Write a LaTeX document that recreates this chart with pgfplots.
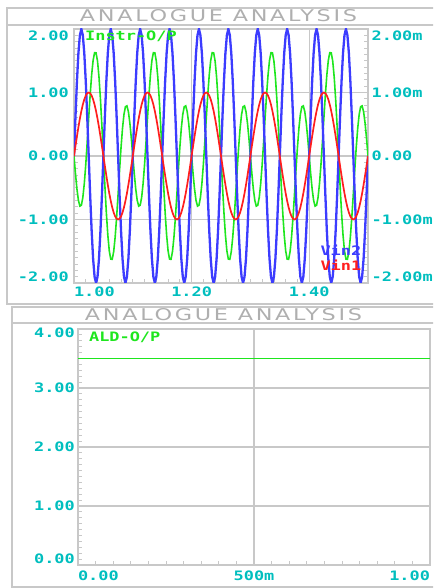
\documentclass[border=0pt]{standalone}
\usepackage{fontspec}
\usepackage{pgfplots}
\usepackage{pgfplotstable}
\pgfplotsset{compat=1.18}

\newfontfamily\pix{DejaVu Sans Mono Bold}[FakeStretch=1.3]
\newfontfamily\ttl{DejaVu Sans}[LetterSpace=12]
\newcommand\pixfont{\pix\fontsize{13pt}{15pt}\selectfont}

\definecolor{framegray}{RGB}{200,200,200}
\definecolor{titlegray}{RGB}{175,175,175}
\definecolor{tickcyan}{RGB}{0,190,190}
\definecolor{sgreen}{RGB}{30,230,30}
\definecolor{sblue}{RGB}{60,60,255}
\definecolor{sred}{RGB}{255,30,30}

% t  Vin1  Vin2  Instr-O/P
\pgfplotstableread{
t v1 v2 out
1.0000 0 0 0
1.0025 0.1564 0.618 -0.277
1.0050 0.3090 1.176 -0.520
1.0075 0.4540 1.618 -0.698
1.0100 0.5878 1.902 -0.789
1.0125 0.7071 2.000 -0.776
1.0150 0.8090 1.902 -0.656
1.0175 0.8910 1.618 -0.436
1.0200 0.9511 1.176 -0.135
1.0225 0.9877 0.618 0.222
1.0250 1.0000 0.000 0.600
1.0275 0.9877 -0.618 0.963
1.0300 0.9511 -1.176 1.276
1.0325 0.8910 -1.618 1.505
1.0350 0.8090 -1.902 1.627
1.0375 0.7071 -2.000 1.624
1.0400 0.5878 -1.902 1.494
1.0425 0.4540 -1.618 1.243
1.0450 0.3090 -1.176 0.891
1.0475 0.1564 -0.618 0.465
1.0500 0 0 0
1.0525 -0.1564 0.618 -0.465
1.0550 -0.3090 1.176 -0.891
1.0575 -0.4540 1.618 -1.243
1.0600 -0.5878 1.902 -1.494
1.0625 -0.7071 2.000 -1.624
1.0650 -0.8090 1.902 -1.627
1.0675 -0.8910 1.618 -1.505
1.0700 -0.9511 1.176 -1.276
1.0725 -0.9877 0.618 -0.963
1.0750 -1.0000 0.000 -0.600
1.0775 -0.9877 -0.618 -0.222
1.0800 -0.9511 -1.176 0.135
1.0825 -0.8910 -1.618 0.436
1.0850 -0.8090 -1.902 0.656
1.0875 -0.7071 -2.000 0.776
1.0900 -0.5878 -1.902 0.789
1.0925 -0.4540 -1.618 0.698
1.0950 -0.3090 -1.176 0.520
1.0975 -0.1564 -0.618 0.277
1.1000 0 0 0
1.1025 0.1564 0.618 -0.277
1.1050 0.3090 1.176 -0.520
1.1075 0.4540 1.618 -0.698
1.1100 0.5878 1.902 -0.789
1.1125 0.7071 2.000 -0.776
1.1150 0.8090 1.902 -0.656
1.1175 0.8910 1.618 -0.436
1.1200 0.9511 1.176 -0.135
1.1225 0.9877 0.618 0.222
1.1250 1.0000 0.000 0.600
1.1275 0.9877 -0.618 0.963
1.1300 0.9511 -1.176 1.276
1.1325 0.8910 -1.618 1.505
1.1350 0.8090 -1.902 1.627
1.1375 0.7071 -2.000 1.624
1.1400 0.5878 -1.902 1.494
1.1425 0.4540 -1.618 1.243
1.1450 0.3090 -1.176 0.891
1.1475 0.1564 -0.618 0.465
1.1500 0 0 0
1.1525 -0.1564 0.618 -0.465
1.1550 -0.3090 1.176 -0.891
1.1575 -0.4540 1.618 -1.243
1.1600 -0.5878 1.902 -1.494
1.1625 -0.7071 2.000 -1.624
1.1650 -0.8090 1.902 -1.627
1.1675 -0.8910 1.618 -1.505
1.1700 -0.9511 1.176 -1.276
1.1725 -0.9877 0.618 -0.963
1.1750 -1.0000 0.000 -0.600
1.1775 -0.9877 -0.618 -0.222
1.1800 -0.9511 -1.176 0.135
1.1825 -0.8910 -1.618 0.436
1.1850 -0.8090 -1.902 0.656
1.1875 -0.7071 -2.000 0.776
1.1900 -0.5878 -1.902 0.789
1.1925 -0.4540 -1.618 0.698
1.1950 -0.3090 -1.176 0.520
1.1975 -0.1564 -0.618 0.277
1.2000 0 0 0
1.2025 0.1564 0.618 -0.277
1.2050 0.3090 1.176 -0.520
1.2075 0.4540 1.618 -0.698
1.2100 0.5878 1.902 -0.789
1.2125 0.7071 2.000 -0.776
1.2150 0.8090 1.902 -0.656
1.2175 0.8910 1.618 -0.436
1.2200 0.9511 1.176 -0.135
1.2225 0.9877 0.618 0.222
1.2250 1.0000 0.000 0.600
1.2275 0.9877 -0.618 0.963
1.2300 0.9511 -1.176 1.276
1.2325 0.8910 -1.618 1.505
1.2350 0.8090 -1.902 1.627
1.2375 0.7071 -2.000 1.624
1.2400 0.5878 -1.902 1.494
1.2425 0.4540 -1.618 1.243
1.2450 0.3090 -1.176 0.891
1.2475 0.1564 -0.618 0.465
1.2500 0 0 0
1.2525 -0.1564 0.618 -0.465
1.2550 -0.3090 1.176 -0.891
1.2575 -0.4540 1.618 -1.243
1.2600 -0.5878 1.902 -1.494
1.2625 -0.7071 2.000 -1.624
1.2650 -0.8090 1.902 -1.627
1.2675 -0.8910 1.618 -1.505
1.2700 -0.9511 1.176 -1.276
1.2725 -0.9877 0.618 -0.963
1.2750 -1.0000 0.000 -0.600
1.2775 -0.9877 -0.618 -0.222
1.2800 -0.9511 -1.176 0.135
1.2825 -0.8910 -1.618 0.436
1.2850 -0.8090 -1.902 0.656
1.2875 -0.7071 -2.000 0.776
1.2900 -0.5878 -1.902 0.789
1.2925 -0.4540 -1.618 0.698
1.2950 -0.3090 -1.176 0.520
1.2975 -0.1564 -0.618 0.277
1.3000 0 0 0
1.3025 0.1564 0.618 -0.277
1.3050 0.3090 1.176 -0.520
1.3075 0.4540 1.618 -0.698
1.3100 0.5878 1.902 -0.789
1.3125 0.7071 2.000 -0.776
1.3150 0.8090 1.902 -0.656
1.3175 0.8910 1.618 -0.436
1.3200 0.9511 1.176 -0.135
1.3225 0.9877 0.618 0.222
1.3250 1.0000 0.000 0.600
1.3275 0.9877 -0.618 0.963
1.3300 0.9511 -1.176 1.276
1.3325 0.8910 -1.618 1.505
1.3350 0.8090 -1.902 1.627
1.3375 0.7071 -2.000 1.624
1.3400 0.5878 -1.902 1.494
1.3425 0.4540 -1.618 1.243
1.3450 0.3090 -1.176 0.891
1.3475 0.1564 -0.618 0.465
1.3500 0 0 0
1.3525 -0.1564 0.618 -0.465
1.3550 -0.3090 1.176 -0.891
1.3575 -0.4540 1.618 -1.243
1.3600 -0.5878 1.902 -1.494
1.3625 -0.7071 2.000 -1.624
1.3650 -0.8090 1.902 -1.627
1.3675 -0.8910 1.618 -1.505
1.3700 -0.9511 1.176 -1.276
1.3725 -0.9877 0.618 -0.963
1.3750 -1.0000 0.000 -0.600
1.3775 -0.9877 -0.618 -0.222
1.3800 -0.9511 -1.176 0.135
1.3825 -0.8910 -1.618 0.436
1.3850 -0.8090 -1.902 0.656
1.3875 -0.7071 -2.000 0.776
1.3900 -0.5878 -1.902 0.789
1.3925 -0.4540 -1.618 0.698
1.3950 -0.3090 -1.176 0.520
1.3975 -0.1564 -0.618 0.277
1.4000 0 0 0
1.4025 0.1564 0.618 -0.277
1.4050 0.3090 1.176 -0.520
1.4075 0.4540 1.618 -0.698
1.4100 0.5878 1.902 -0.789
1.4125 0.7071 2.000 -0.776
1.4150 0.8090 1.902 -0.656
1.4175 0.8910 1.618 -0.436
1.4200 0.9511 1.176 -0.135
1.4225 0.9877 0.618 0.222
1.4250 1.0000 0.000 0.600
1.4275 0.9877 -0.618 0.963
1.4300 0.9511 -1.176 1.276
1.4325 0.8910 -1.618 1.505
1.4350 0.8090 -1.902 1.627
1.4375 0.7071 -2.000 1.624
1.4400 0.5878 -1.902 1.494
1.4425 0.4540 -1.618 1.243
1.4450 0.3090 -1.176 0.891
1.4475 0.1564 -0.618 0.465
1.4500 0 0 0
1.4525 -0.1564 0.618 -0.465
1.4550 -0.3090 1.176 -0.891
1.4575 -0.4540 1.618 -1.243
1.4600 -0.5878 1.902 -1.494
1.4625 -0.7071 2.000 -1.624
1.4650 -0.8090 1.902 -1.627
1.4675 -0.8910 1.618 -1.505
1.4700 -0.9511 1.176 -1.276
1.4725 -0.9877 0.618 -0.963
1.4750 -1.0000 0.000 -0.600
1.4775 -0.9877 -0.618 -0.222
1.4800 -0.9511 -1.176 0.135
1.4825 -0.8910 -1.618 0.436
1.4850 -0.8090 -1.902 0.656
1.4875 -0.7071 -2.000 0.776
1.4900 -0.5878 -1.902 0.789
1.4925 -0.4540 -1.618 0.698
1.4950 -0.3090 -1.176 0.520
1.4975 -0.1564 -0.618 0.277
1.5000 0 0 0
}\wave

\pgfplotsset{
  scopeplot/.style={
    scale only axis,
    axis line style={draw=framegray, line width=1.2pt},
    grid=major,
    major grid style={draw=framegray, line width=1.2pt},
    tick align=inside,
    major tick length=0pt,
    minor tick length=4pt,
    minor tick style={draw=framegray, line width=0.8pt},
    xtick pos=bottom,
    ticklabel style={font=\pixfont, text=tickcyan, inner sep=0pt},
  },
}

\begin{document}
\begin{tikzpicture}
\useasboundingbox (0,0) rectangle (433pt,588pt);
\clip (0,0) rectangle (433pt,588pt);

% panel frames
\draw[framegray, line width=1.2pt] (7pt,580pt) rectangle (445pt,284pt);
\draw[framegray, line width=1.2pt] (7pt,563pt) -- (445pt,563pt);
\draw[framegray, line width=1.2pt] (12pt,281pt) rectangle (445pt,1pt);
\draw[framegray, line width=1.2pt] (12pt,265pt) -- (445pt,265pt);

\node[text=titlegray, inner sep=0pt] at (218.5pt,572pt)
  {\resizebox{277pt}{12pt}{\ttl ANALOGUE ANALYSIS}};
\node[text=titlegray, inner sep=0pt] at (223.5pt,273pt)
  {\resizebox{277pt}{12pt}{\ttl ANALOGUE ANALYSIS}};

% top panel
\begin{axis}[
  scopeplot,
  at={(74pt,305pt)}, anchor=south west,
  width=294pt, height=254pt,
  xmin=1, xmax=1.5, ymin=-2, ymax=2,
  xtick={1,1.2,1.4},
  xticklabels={\makebox[0pt][l]{1.00}, 1.20, 1.40},
  xticklabel style={anchor=north, yshift=-4pt},
  ytick={-2,-1,0,1,2},
  yticklabels={\raisebox{6pt}{-2.00}, -1.00, 0.00, 1.00, \raisebox{-7pt}{2.00}},
  yticklabel style={anchor=base east, yshift=-4.7pt, xshift=-5pt},
  ytick pos=both, yticklabel pos=left,
  minor x tick num=9, minor y tick num=9,
  legend style={at={(axis cs:1.419,-1.39)}, anchor=north west, draw=none,
    fill=none, inner sep=0pt, font=\pixfont, row sep=3pt,
    nodes={inner sep=0pt}},
  legend image code/.code={},
]
\addplot[sgreen, line width=1.6pt, forget plot] table[x=t, y=out] {\wave};
\addplot[sblue, line width=2.3pt] table[x=t, y=v2] {\wave};
\addlegendentry{\textcolor{sblue}{Vin2}}
\addplot[sred, line width=1.7pt] table[x=t, y=v1] {\wave};
\addlegendentry{\textcolor{sred}{Vin1}}
\node[anchor=west, inner sep=0pt, text=sgreen, font=\pixfont]
  at (axis cs:1.0187,1.89) {Instr-O/P};
\end{axis}

% right-hand scale of top panel
\begin{axis}[
  scale only axis,
  at={(74pt,305pt)}, anchor=south west,
  width=294pt, height=254pt,
  xmin=1, xmax=1.5, ymin=-2, ymax=2,
  hide x axis,
  axis y line*=right,
  y axis line style={draw=none},
  major tick length=0pt,
  ytick={-2,-1,0,1,2},
  yticklabels={\raisebox{6pt}{-2.00m}, -1.00m, 0.00, 1.00m, \raisebox{-7pt}{2.00m}},
  yticklabel style={font=\pixfont, text=tickcyan, inner sep=0pt,
    anchor=base west, yshift=-4.7pt, xshift=3.5pt},
]
\addplot[draw=none] coordinates {(1,0)};
\end{axis}

% bottom panel
\begin{axis}[
  scopeplot,
  at={(78pt,23pt)}, anchor=south west,
  width=352pt, height=236pt,
  xmin=0, xmax=1, ymin=0, ymax=4,
  xtick={0,0.5,1},
  xticklabels={\makebox[0pt][l]{0.00}, 500m, \makebox[0pt][r]{1.00}},
  xticklabel style={anchor=north, yshift=-5.5pt},
  ytick={0,1,2,3,4},
  yticklabels={\raisebox{6pt}{0.00}, 1.00, 2.00, 3.00, \raisebox{-4pt}{4.00}},
  yticklabel style={anchor=base east, yshift=-4.7pt, xshift=-3pt},
  ytick pos=left,
  minor x tick num=9, minor y tick num=9,
]
\addplot[sgreen, line width=1.2pt] coordinates {(0,3.5) (1,3.5)};
\node[anchor=west, inner sep=0pt, text=sgreen, font=\pixfont]
  at (axis cs:0.031,3.86) {ALD-O/P};
\end{axis}
\end{tikzpicture}
\end{document}
